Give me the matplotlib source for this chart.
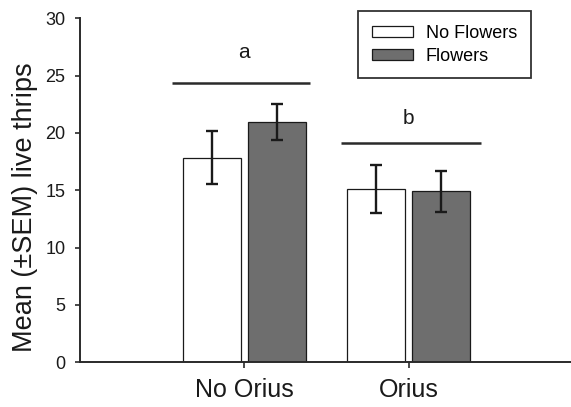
import numpy as np
import matplotlib
matplotlib.use("Agg")
import matplotlib.pyplot as plt

plt.rcParams['font.family'] = ['Liberation Sans', 'DejaVu Sans']

groups = ['No Orius', 'Orius']
no_flowers = [17.85, 15.08]
no_flowers_sem = [2.33, 2.09]
flowers = [20.95, 14.9]
flowers_sem = [1.6, 1.79]

# significance groups: letter, line height, line span (relative to group)
letters = ['a', 'b']
sig_line_y = [24.35, 19.15]
sig_span = [(-0.44, 0.40), (-0.41, 0.44)]
letter_y = [26.5, 20.75]

fig = plt.figure(figsize=(5.71, 4.07), dpi=100)
ax = fig.add_axes([80 / 571, 44.7 / 407, 493 / 571, 344 / 407])

x = np.arange(len(groups))
w = 0.355
off = 0.198
err_kw = dict(ecolor='#1a1a1a', elinewidth=1.7, capsize=4.2, capthick=1.7)

ax.bar(x - off, no_flowers, w, yerr=no_flowers_sem, color='white',
       edgecolor='#1a1a1a', linewidth=0.9, label='No Flowers', error_kw=err_kw, zorder=2)
ax.bar(x + off, flowers, w, yerr=flowers_sem, color='#6e6e6e',
       edgecolor='#1a1a1a', linewidth=0.9, label='Flowers', error_kw=err_kw, zorder=2)

for i in range(len(groups)):
    ax.plot([x[i] + sig_span[i][0], x[i] + sig_span[i][1]], [sig_line_y[i]] * 2,
            color='#2a2a2a', lw=1.8, solid_capstyle='butt')
    ax.text(x[i], letter_y[i], letters[i], ha='center', va='baseline',
            fontsize=15, color='#1a1a1a')

ax.set_xlim(-1.0, 2.0)
ax.set_ylim(0, 30)
ax.set_yticks(range(0, 31, 5))
ax.set_xticks(x)
ax.set_xticklabels(groups)
ax.set_ylabel('Mean (\u00b1SEM) live thrips', fontsize=19.5, color='#1a1a1a', labelpad=5)
ax.yaxis.label.set_y(0.45)

for s in ['top', 'right']:
    ax.spines[s].set_visible(False)
for s in ['left', 'bottom']:
    ax.spines[s].set_linewidth(1.4)
    ax.spines[s].set_color('#2a2a2a')

ax.tick_params(axis='y', labelsize=13, length=3.5, width=1.2, pad=7,
               colors='#2a2a2a', labelcolor='#1a1a1a')
ax.tick_params(axis='x', labelsize=18, length=4, width=1.2, pad=7,
               colors='#2a2a2a', labelcolor='#1a1a1a')

leg = ax.legend(loc='upper left', bbox_to_anchor=(358 / 571, 1 - 11 / 407),
                bbox_transform=fig.transFigure, borderaxespad=0, fontsize=13,
                fancybox=False, framealpha=1, edgecolor='#333333',
                handlelength=2.3, handleheight=0.55, handletextpad=0.7,
                labelspacing=0.35, borderpad=0.75)
leg.get_frame().set_linewidth(1.3)

fig.savefig('out.png', dpi=100)
